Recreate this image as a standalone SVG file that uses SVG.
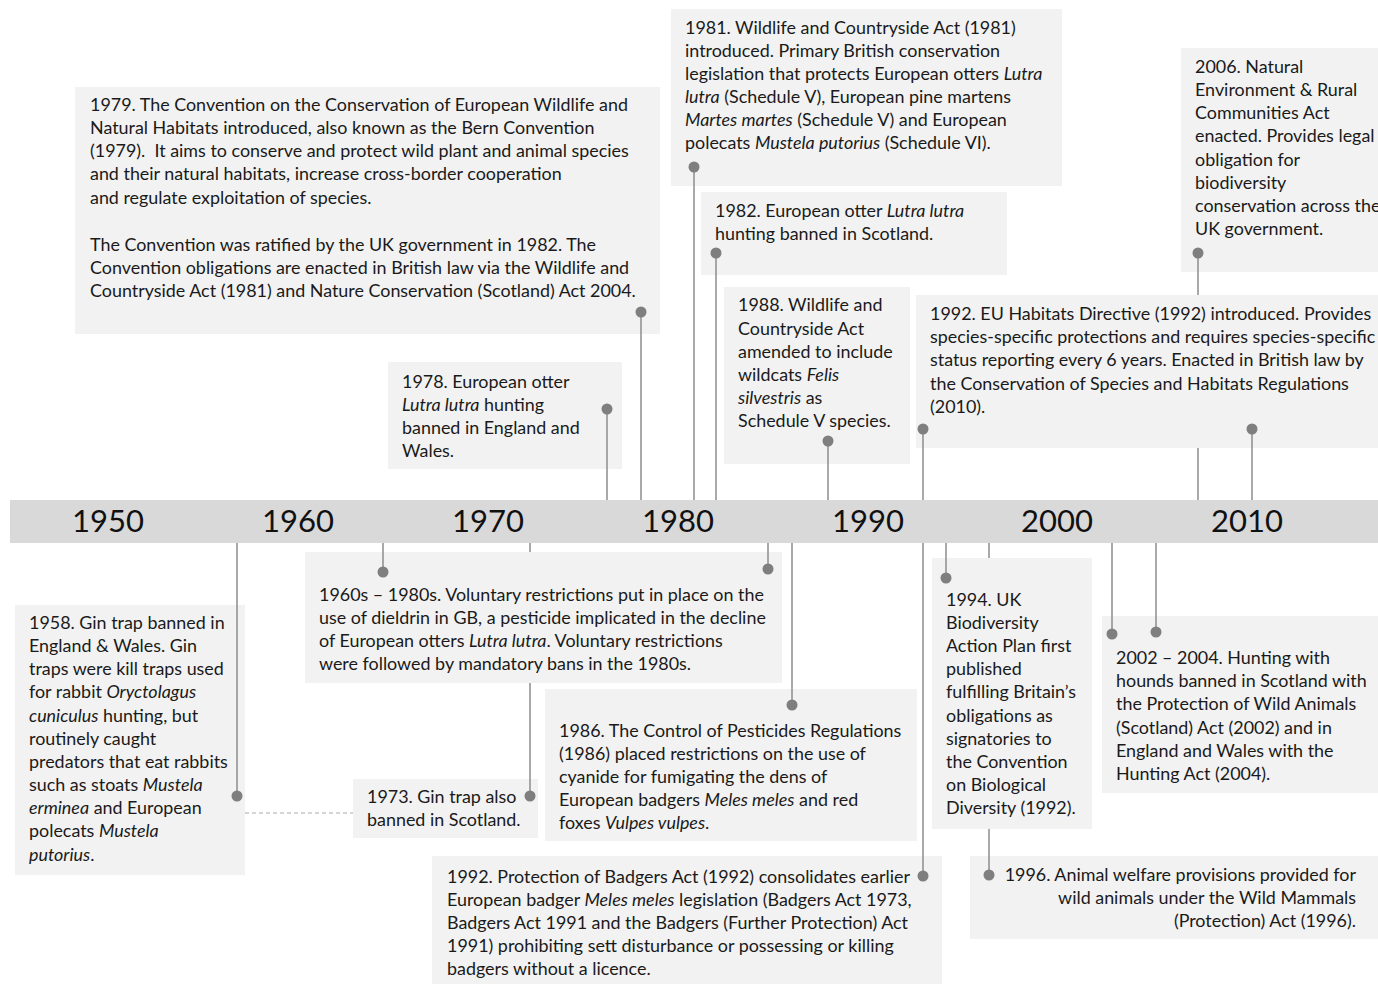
<svg xmlns="http://www.w3.org/2000/svg" width="1378" height="984" viewBox="0 0 1378 984">
<style>
.box{fill:#f2f2f2}
.t{font-family:Lato,"Liberation Sans",sans-serif;font-size:17.9px;fill:#1a1a1a}
.i{font-style:italic}
.yr{font-family:Lato,"Liberation Sans",sans-serif;font-size:31px;fill:#111;text-anchor:middle}
.ln{stroke:#8c8c8c;stroke-width:1.5;fill:none}
.dot{fill:#7f7f7f}
.dash{stroke:#aaa;stroke-width:1;stroke-dasharray:4 3}
</style>
<rect width="1378" height="984" fill="#fff"/>
<g id="timeline">
<rect x="10" y="500" width="1368" height="43" fill="#d9d9d9"/>
<text class="yr" x="108" y="532">1950</text>
<text class="yr" x="298" y="532">1960</text>
<text class="yr" x="488" y="532">1970</text>
<text class="yr" x="678" y="532">1980</text>
<text class="yr" x="868" y="532">1990</text>
<text class="yr" x="1057" y="532">2000</text>
<text class="yr" x="1247" y="532">2010</text>
</g>
<g id="n1979"><rect class="box" x="75" y="87" width="585" height="247"/>
<text class="t"><tspan x="90" y="111">1979. The Convention on the Conservation of European Wildlife and</tspan><tspan x="90" y="134">Natural Habitats introduced, also known as the Bern Convention</tspan><tspan x="90" y="157">(1979).&#160; It aims to conserve and protect wild plant and animal species</tspan><tspan x="90" y="180">and their natural habitats, increase cross-border cooperation</tspan><tspan x="90" y="204">and regulate exploitation of species.</tspan><tspan x="90" y="251">The Convention was ratified by the UK government in 1982. The</tspan><tspan x="90" y="274">Convention obligations are enacted in British law via the Wildlife and</tspan><tspan x="90" y="297">Countryside Act (1981) and Nature Conservation (Scotland) Act 2004.</tspan></text></g>
<g id="n1978"><rect class="box" x="388" y="362" width="234" height="107"/>
<text class="t"><tspan x="402" y="388">1978. European otter</tspan><tspan x="402" y="411"><tspan class="i">Lutra lutra</tspan> hunting</tspan><tspan x="402" y="434">banned in England and</tspan><tspan x="402" y="457">Wales.</tspan></text></g>
<g id="n1981"><rect class="box" x="671" y="9" width="391" height="177"/>
<text class="t"><tspan x="685" y="34">1981. Wildlife and Countryside Act (1981)</tspan><tspan x="685" y="57">introduced. Primary British conservation</tspan><tspan x="685" y="80">legislation that protects European otters <tspan class="i">Lutra</tspan></tspan><tspan x="685" y="103"><tspan class="i">lutra</tspan> (Schedule V), European pine martens</tspan><tspan x="685" y="126"><tspan class="i">Martes martes</tspan> (Schedule V) and European</tspan><tspan x="685" y="149">polecats <tspan class="i">Mustela putorius</tspan> (Schedule VI).</tspan></text></g>
<g id="n1982"><rect class="box" x="701" y="192" width="306" height="83"/>
<text class="t"><tspan x="715" y="217">1982. European otter <tspan class="i">Lutra lutra</tspan></tspan><tspan x="715" y="240">hunting banned in Scotland.</tspan></text></g>
<g id="n1988"><rect class="box" x="724" y="287" width="186" height="177"/>
<text class="t"><tspan x="738" y="311">1988. Wildlife and</tspan><tspan x="738" y="335">Countryside Act</tspan><tspan x="738" y="358">amended to include</tspan><tspan x="738" y="381">wildcats <tspan class="i">Felis</tspan></tspan><tspan x="738" y="404"><tspan class="i">silvestris</tspan> as</tspan><tspan x="738" y="427">Schedule V species.</tspan></text></g>
<g id="n1992eu"><rect class="box" x="916" y="295" width="462" height="153"/>
<text class="t"><tspan x="930" y="320">1992. EU Habitats Directive (1992) introduced. Provides</tspan><tspan x="930" y="343">species-specific protections and requires species-specific</tspan><tspan x="930" y="366">status reporting every 6 years. Enacted in British law by</tspan><tspan x="930" y="390">the Conservation of Species and Habitats Regulations</tspan><tspan x="930" y="413">(2010).</tspan></text></g>
<g id="n2006"><rect class="box" x="1181" y="48" width="197" height="224"/>
<text class="t"><tspan x="1195" y="73">2006. Natural</tspan><tspan x="1195" y="96">Environment &amp; Rural</tspan><tspan x="1195" y="119">Communities Act</tspan><tspan x="1195" y="142">enacted. Provides legal</tspan><tspan x="1195" y="166">obligation for</tspan><tspan x="1195" y="189">biodiversity</tspan><tspan x="1195" y="212">conservation across the</tspan><tspan x="1195" y="235">UK government.</tspan></text></g>
<g id="n1958"><rect class="box" x="15" y="605" width="230" height="270"/>
<text class="t"><tspan x="29" y="629">1958. Gin trap banned in</tspan><tspan x="29" y="652">England &amp; Wales. Gin</tspan><tspan x="29" y="675">traps were kill traps used</tspan><tspan x="29" y="698">for rabbit <tspan class="i">Oryctolagus</tspan></tspan><tspan x="29" y="722"><tspan class="i">cuniculus</tspan> hunting, but</tspan><tspan x="29" y="745">routinely caught</tspan><tspan x="29" y="768">predators that eat rabbits</tspan><tspan x="29" y="791">such as stoats <tspan class="i">Mustela</tspan></tspan><tspan x="29" y="814"><tspan class="i">erminea</tspan> and European</tspan><tspan x="29" y="837">polecats <tspan class="i">Mustela</tspan></tspan><tspan x="29" y="861"><tspan class="i">putorius</tspan>.</tspan></text></g>
<g id="n1960s"><rect class="box" x="305" y="552" width="477" height="131"/>
<text class="t"><tspan x="319" y="601">1960s – 1980s. Voluntary restrictions put in place on the</tspan><tspan x="319" y="624">use of dieldrin in GB, a pesticide implicated in the decline</tspan><tspan x="319" y="647">of European otters <tspan class="i">Lutra lutra</tspan>. Voluntary restrictions</tspan><tspan x="319" y="670">were followed by mandatory bans in the 1980s.</tspan></text></g>
<g id="n1973"><rect class="box" x="353" y="779" width="185" height="59"/>
<text class="t"><tspan x="367" y="803">1973. Gin trap also</tspan><tspan x="367" y="826">banned in Scotland.</tspan></text></g>
<g id="n1986"><rect class="box" x="545" y="689" width="372" height="152"/>
<text class="t"><tspan x="559" y="737">1986. The Control of Pesticides Regulations</tspan><tspan x="559" y="760">(1986) placed restrictions on the use of</tspan><tspan x="559" y="783">cyanide for fumigating the dens of</tspan><tspan x="559" y="806">European badgers <tspan class="i">Meles meles</tspan> and red</tspan><tspan x="559" y="829">foxes <tspan class="i">Vulpes vulpes</tspan>.</tspan></text></g>
<g id="n1992b"><rect class="box" x="432" y="856" width="510" height="128"/>
<text class="t"><tspan x="447" y="883">1992. Protection of Badgers Act (1992) consolidates earlier</tspan><tspan x="447" y="906">European badger <tspan class="i">Meles meles</tspan> legislation (Badgers Act 1973,</tspan><tspan x="447" y="929">Badgers Act 1991 and the Badgers (Further Protection) Act</tspan><tspan x="447" y="952">1991) prohibiting sett disturbance or possessing or killing</tspan><tspan x="447" y="975">badgers without a licence.</tspan></text></g>
<g id="n1994"><rect class="box" x="932" y="558" width="160" height="271"/>
<text class="t"><tspan x="946" y="606">1994. UK</tspan><tspan x="946" y="629">Biodiversity</tspan><tspan x="946" y="652">Action Plan first</tspan><tspan x="946" y="675">published</tspan><tspan x="946" y="698">fulfilling Britain’s</tspan><tspan x="946" y="722">obligations as</tspan><tspan x="946" y="745">signatories to</tspan><tspan x="946" y="768">the Convention</tspan><tspan x="946" y="791">on Biological</tspan><tspan x="946" y="814">Diversity (1992).</tspan></text></g>
<g id="n2002"><rect class="box" x="1102" y="616" width="276" height="177"/>
<text class="t"><tspan x="1116" y="664">2002 – 2004. Hunting with</tspan><tspan x="1116" y="687">hounds banned in Scotland with</tspan><tspan x="1116" y="710">the Protection of Wild Animals</tspan><tspan x="1116" y="734">(Scotland) Act (2002) and in</tspan><tspan x="1116" y="757">England and Wales with the</tspan><tspan x="1116" y="780">Hunting Act (2004).</tspan></text></g>
<g id="n1996"><rect class="box" x="970" y="856" width="408" height="83"/>
<text class="t" text-anchor="end"><tspan x="1356" y="881">1996. Animal welfare provisions provided for</tspan><tspan x="1356" y="904">wild animals under the Wild Mammals</tspan><tspan x="1356" y="927">(Protection) Act (1996).</tspan></text></g>
<g id="connectors">
<line class="ln" x1="607" y1="409" x2="607" y2="500"/>
<line class="ln" x1="641" y1="312" x2="641" y2="500"/>
<line class="ln" x1="694" y1="167" x2="694" y2="500"/>
<line class="ln" x1="716" y1="253" x2="716" y2="500"/>
<line class="ln" x1="828" y1="441" x2="828" y2="500"/>
<line class="ln" x1="923" y1="429" x2="923" y2="500"/>
<line class="ln" x1="1198" y1="253" x2="1198" y2="295"/>
<line class="ln" x1="1198" y1="448" x2="1198" y2="500"/>
<line class="ln" x1="1252" y1="429" x2="1252" y2="500"/>
<line class="ln" x1="237" y1="543" x2="237" y2="796"/>
<line class="ln" x1="383" y1="543" x2="383" y2="572"/>
<line class="ln" x1="768" y1="543" x2="768" y2="569"/>
<line class="ln" x1="530" y1="543" x2="530" y2="552"/>
<line class="ln" x1="530" y1="683" x2="530" y2="796"/>
<line class="ln" x1="792" y1="543" x2="792" y2="705"/>
<line class="ln" x1="923" y1="543" x2="923" y2="876"/>
<line class="ln" x1="946" y1="543" x2="946" y2="578"/>
<line class="ln" x1="989" y1="543" x2="989" y2="558"/>
<line class="ln" x1="989" y1="829" x2="989" y2="875"/>
<line class="ln" x1="1112" y1="543" x2="1112" y2="634"/>
<line class="ln" x1="1156" y1="543" x2="1156" y2="632"/>
<line class="dash" x1="245" y1="813" x2="353" y2="813"/>
<circle class="dot" cx="607" cy="409" r="5.5"/>
<circle class="dot" cx="641" cy="312" r="5.5"/>
<circle class="dot" cx="694" cy="167" r="5.5"/>
<circle class="dot" cx="716" cy="253" r="5.5"/>
<circle class="dot" cx="828" cy="441" r="5.5"/>
<circle class="dot" cx="923" cy="429" r="5.5"/>
<circle class="dot" cx="1198" cy="253" r="5.5"/>
<circle class="dot" cx="1252" cy="429" r="5.5"/>
<circle class="dot" cx="237" cy="796" r="5.5"/>
<circle class="dot" cx="383" cy="572" r="5.5"/>
<circle class="dot" cx="768" cy="569" r="5.5"/>
<circle class="dot" cx="530" cy="796" r="5.5"/>
<circle class="dot" cx="792" cy="705" r="5.5"/>
<circle class="dot" cx="923" cy="876" r="5.5"/>
<circle class="dot" cx="946" cy="578" r="5.5"/>
<circle class="dot" cx="989" cy="875" r="5.5"/>
<circle class="dot" cx="1112" cy="634" r="5.5"/>
<circle class="dot" cx="1156" cy="632" r="5.5"/>
</g>
</svg>
